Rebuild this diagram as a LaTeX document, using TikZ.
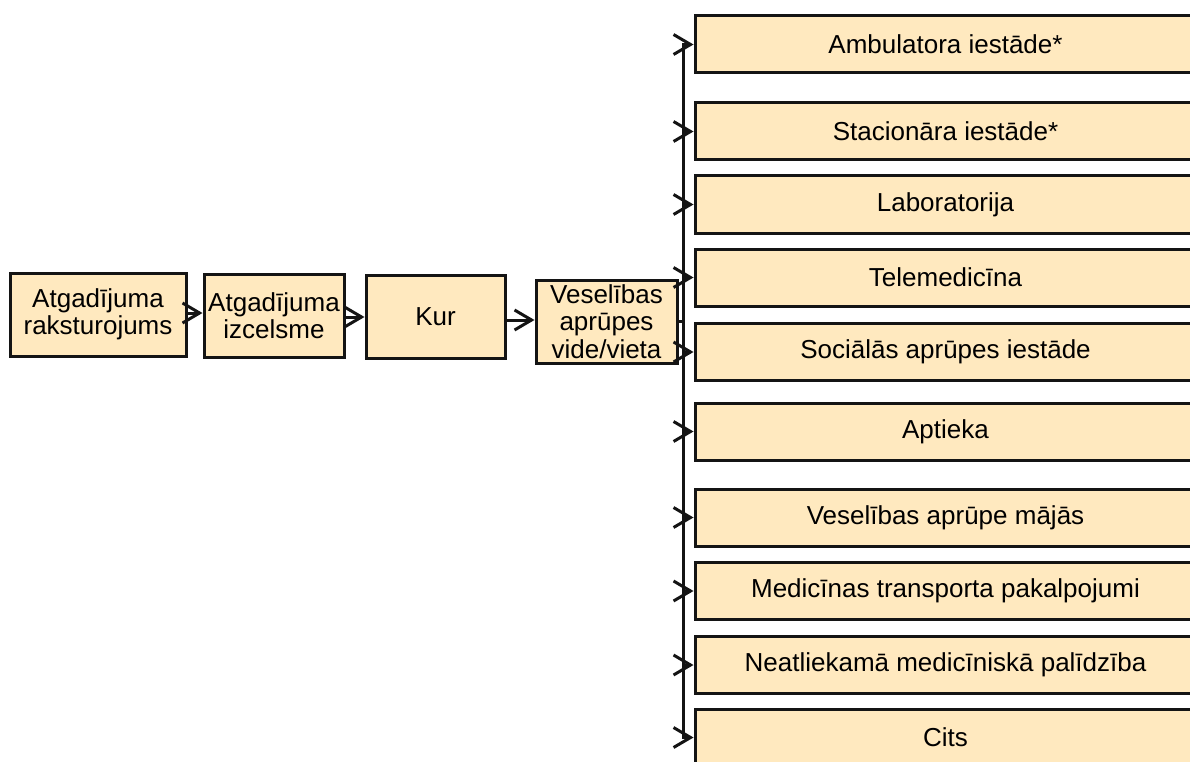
\documentclass[tikz,border=0pt]{standalone}
\usepackage{fontspec}
\setmainfont{Liberation Sans}
\usetikzlibrary{arrows.meta}
\definecolor{boxfill}{RGB}{255,233,191}
\definecolor{boxline}{RGB}{20,20,20}
\tikzset{
  box/.style={draw=boxline, fill=boxfill, line width=3pt, inner sep=0pt, align=center,
    font=\fontsize{26}{27.5}\selectfont},
  lbox/.style={box},
  rbox/.style={box, minimum width=501pt, minimum height=57pt},
  arr/.style={line width=3pt, draw=boxline, -{Straight Barb[length=17pt,width=20pt,line width=3pt]}},
  conn/.style={line width=3pt, draw=boxline},
}
\begin{document}
\begin{tikzpicture}[x=1pt,y=-1pt]
\useasboundingbox (0,0) rectangle (1190,762);
% left chain
\node[lbox, minimum width=176pt, minimum height=83pt] (b1) at (98,314.5) {Atgadījuma\\raksturojums};
\node[lbox, minimum width=140pt, minimum height=83pt] (b2) at (274,315.5) {Atgadījuma\\izcelsme};
\node[lbox, minimum width=139pt, minimum height=83pt] (b3) at (435.5,316.5) {Kur};
\node[lbox, minimum width=141pt, minimum height=83pt] (b4) at (606.5,321.5) {Veselības\\aprūpes\\vide/vieta};
% right column
\node[rbox] (r1) at (945.5,44.5) {Ambulatora iestāde*};
\node[rbox] (r2) at (945.5,131.5) {Stacionāra iestāde*};
\node[rbox] (r3) at (945.5,204.5) {Laboratorija};
\node[rbox] (r4) at (945.5,277.5) {Telemedicīna};
\node[rbox] (r5) at (945.5,352) {Sociālās aprūpes iestāde};
\node[rbox] (r6) at (945.5,431.5) {Aptieka};
\node[rbox] (r7) at (945.5,517.5) {Veselības aprūpe mājās};
\node[rbox] (r8) at (945.5,591) {Medicīnas transporta pakalpojumi};
\node[rbox] (r9) at (945.5,665) {Neatliekamā medicīniskā palīdzība};
\node[rbox] (r10) at (945.5,737.5) {Cits};
% chain arrows
\draw[arr] (b1.east |- 0,313) -- (b2.west |- 0,313);
\draw[arr] (b2.east |- 0,317) -- (b3.west |- 0,317);
\draw[arr] (b3.east |- 0,320) -- (b4.west |- 0,320);
% trunk
\coordinate (t) at (683,321.5);
\draw[conn] (b4.east) -- (t);
\foreach \i in {1,...,10}{
  \draw[arr] (t) |- (r\i.west);
}
\end{tikzpicture}
\end{document}
